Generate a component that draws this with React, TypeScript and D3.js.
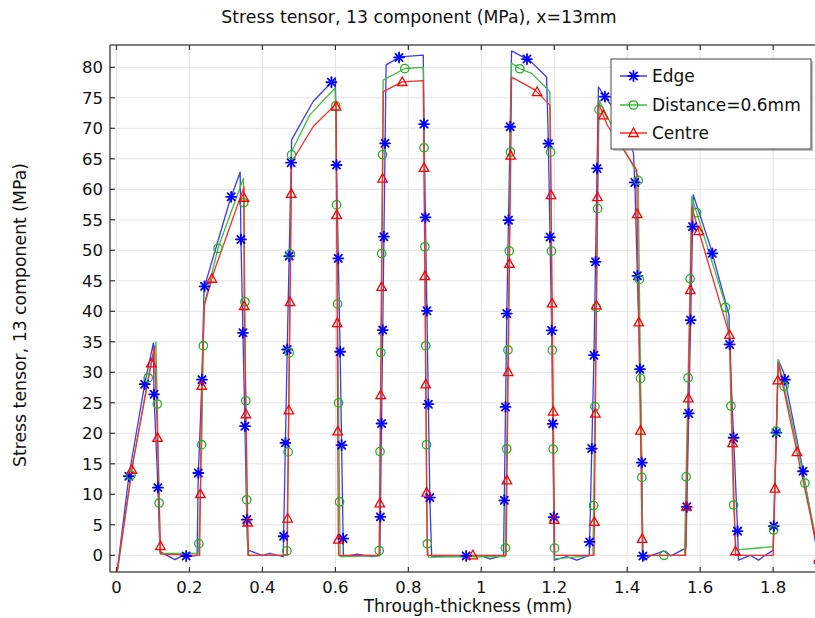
import React, { useMemo } from 'react';
import * as d3 from 'd3';

const xTicks = [0, 0.2, 0.4, 0.6, 0.8, 1, 1.2, 1.4, 1.6, 1.8];
const xTickLabels = ['0', '0.2', '0.4', '0.6', '0.8', '1', '1.2', '1.4', '1.6', '1.8'];
const yTicks = [0, 5, 10, 15, 20, 25, 30, 35, 40, 45, 50, 55, 60, 65, 70, 75, 80];

const seriesNames = ['Edge', 'Distance=0.6mm', 'Centre'];

const edgePts: [number, number][] = [
  [0, -3.5], [0.034, 13], [0.078, 28.3], [0.101, 34.8], [0.103, 26], [0.114, 10.5], [0.119, 0.6],
  [0.16, -0.7], [0.183, 0], [0.197, -0.2], [0.221, 0],
  [0.224, 12.9], [0.234, 28.2], [0.24, 43.8], [0.311, 58.2], [0.339, 62.8],
  [0.341, 52.2], [0.352, 21.5], [0.357, 6.2], [0.36, 0.3],
  [0.362, 0.8], [0.4, 0], [0.42, 0.3], [0.457, -0.2],
  [0.468, 33.8], [0.48, 68.1], [0.539, 74.4], [0.59, 77.6], [0.6, 78.3],
  [0.603, 64], [0.613, 33.4], [0.622, -0.2],
  [0.66, 0.2], [0.7, -0.2], [0.722, 0],
  [0.739, 80.4], [0.777, 81.7], [0.841, 82.0],
  [0.843, 70.3], [0.859, 9.1], [0.864, -0.2],
  [0.92, -0.1], [0.964, -0.1], [1.0, -0.1], [1.024, -0.6], [1.061, 0],
  [1.07, 40.2], [1.083, 82.7], [1.133, 81.1], [1.179, 78.4],
  [1.184, 67.1], [1.193, 36.4], [1.2, -0.8],
  [1.234, -0.2], [1.262, -0.8], [1.296, 0],
  [1.309, 33.1], [1.321, 76.8], [1.342, 74.9], [1.385, 71.5], [1.417, 66],
  [1.421, 60.9], [1.435, 30.4], [1.44, 15], [1.443, -0.3],
  [1.445, -0.8], [1.467, 0], [1.5, 0.7], [1.52, -0.1], [1.558, 1.1],
  [1.561, 1.2], [1.581, 59.1], [1.629, 50.4], [1.679, 39.4],
  [1.68, 35.5], [1.702, 4.9], [1.705, -0.8],
  [1.737, 0], [1.76, -0.8], [1.778, 0], [1.8, 0.8],
  [1.814, 32.0], [1.828, 30.1], [1.878, 15.1], [1.915, 2.5], [1.93, -2],
];

const distPts: [number, number][] = [
  [0, -3.5], [0.042, 14.1], [0.09, 30.1], [0.108, 35.0], [0.112, 24.3], [0.117, 8.0], [0.119, 0.3],
  [0.225, 0.3], [0.2336, 18.2], [0.24, 41], [0.279, 50.5], [0.348, 61.8],
  [0.352, 41.6], [0.357, 9.1], [0.36, 0],
  [0.467, 0], [0.48, 66.2], [0.53, 72.2], [0.599, 76.6],
  [0.601, 73.3], [0.606, 40.8], [0.613, -0.2],
  [0.72, -0.1], [0.731, 77.9], [0.791, 79.8], [0.841, 80.0],
  [0.843, 66.7], [0.852, 1.7], [0.855, -0.3],
  [1.066, -0.2], [1.083, 80.7], [1.104, 79.8], [1.138, 79.0], [1.188, 76.0],
  [1.19, 66.2], [1.197, 17.5], [1.201, -0.6],
  [1.306, 0], [1.323, 74.6], [1.357, 70.5], [1.417, 63.7], [1.43, 62.1],
  [1.433, 45.8], [1.44, 13.3], [1.443, 0],
  [1.557, 0], [1.577, 58.8], [1.586, 57], [1.668, 41.3], [1.68, 35.8],
  [1.684, 25.3], [1.691, 9.2], [1.698, 0.9],
  [1.8, 1.4], [1.814, 32.1], [1.874, 15.7], [1.915, 3.5], [1.93, -2],
];

const centrePts: [number, number][] = [
  [0, -3.5], [0.046, 15.5], [0.104, 34.2], [0.113, 18.2], [0.121, 0.2],
  [0.228, 0], [0.2336, 28.2], [0.241, 41], [0.265, 46.1], [0.3495, 60.4],
  [0.35, 40.5], [0.36, 4.7], [0.362, 0],
  [0.468, 0], [0.48, 64.5], [0.5395, 70.3], [0.602, 74.0],
  [0.6036, 55.9], [0.608, 2.9], [0.609, 0],
  [0.7205, 0], [0.7314, 76.0], [0.7835, 77.6], [0.841, 77.8],
  [0.843, 63.6], [0.85, 10.4], [0.852, 0],
  [1.068, 0], [1.083, 78.4], [1.147, 76.3], [1.188, 73.8],
  [1.191, 59.6], [1.2, 6.6], [1.201, 0],
  [1.309, 0], [1.321, 74.2], [1.3454, 70.5], [1.426, 63.2],
  [1.4277, 54], [1.4414, 0.9], [1.442, 0],
  [1.56, 0], [1.577, 57.1], [1.6014, 52.1], [1.6818, 35.8],
  [1.689, 17.4], [1.697, 0],
  [1.8, 0], [1.814, 31.5], [1.8646, 17.1], [1.915, 3], [1.93, -2],
];

// one marker position for each series; others follow along the curve
const markerAnchors: [number, number][] = [[0.7224, 6.3], [0.7223, 17.0], [0.7223, 8.5]];
const markerSpacingPx = [93.4, 99.0, 108.25];

const colors = ['#0000ff', '#22b022', '#ff0000'];
const lineColors = ['#3a3aff', '#3cc03c', '#ff2a2a'];

const W = 815, H = 618;
const left = 110, top = 45, bottom = 572, right = 840;

const xs = d3.scaleLinear().domain([0, 1]).range([116.5, 481.3]);
const ys = d3.scaleLinear().domain([0, 80]).range([555.3, 67.3]);

function markerPositions(pts: [number, number][], anchor: [number, number], spacing: number) {
  const P = pts.map(([x, y]) => [xs(x), ys(y)]);
  const cum = [0];
  for (let i = 1; i < P.length; i++) {
    cum.push(cum[i - 1] + Math.hypot(P[i][0] - P[i - 1][0], P[i][1] - P[i - 1][1]));
  }
  const A = [xs(anchor[0]), ys(anchor[1])];
  let best = Infinity, sA = 0;
  for (let i = 1; i < P.length; i++) {
    const ax = P[i - 1][0], ay = P[i - 1][1], bx = P[i][0], by = P[i][1];
    const dx = bx - ax, dy = by - ay;
    const l2 = dx * dx + dy * dy;
    let t = l2 > 0 ? ((A[0] - ax) * dx + (A[1] - ay) * dy) / l2 : 0;
    t = Math.max(0, Math.min(1, t));
    const d = Math.hypot(ax + t * dx - A[0], ay + t * dy - A[1]);
    if (d < best) { best = d; sA = cum[i - 1] + t * Math.sqrt(l2); }
  }
  const L = cum[cum.length - 1];
  const out: [number, number][] = [];
  let s = sA - Math.floor(sA / spacing) * spacing;
  let seg = 1;
  for (; s <= L; s += spacing) {
    while (seg < P.length - 1 && cum[seg] < s) seg++;
    const segLen = cum[seg] - cum[seg - 1];
    const t = segLen > 0 ? (s - cum[seg - 1]) / segLen : 0;
    const px = P[seg - 1][0] + t * (P[seg][0] - P[seg - 1][0]);
    const py = P[seg - 1][1] + t * (P[seg][1] - P[seg - 1][1]);
    if (py < bottom - 6) out.push([px, py]);
  }
  return out;
}

function Marker({ kind, x, y }: { kind: number; x: number; y: number }) {
  if (kind === 0) {
    const r = 5;
    const a = r * 0.72;
    return (
      <g stroke={colors[0]} strokeWidth={1.8} strokeLinecap="round">
        <line x1={x - r} y1={y} x2={x + r} y2={y} />
        <line x1={x} y1={y - r} x2={x} y2={y + r} />
        <line x1={x - a} y1={y - a} x2={x + a} y2={y + a} />
        <line x1={x - a} y1={y + a} x2={x + a} y2={y - a} />
      </g>
    );
  }
  if (kind === 1) {
    return <circle cx={x} cy={y} r={4.2} fill="none" stroke={colors[1]} strokeWidth={1.3} />;
  }
  const s = 5;
  const p = `M${x},${y - s} L${x + s * 0.95},${y + s * 0.7} L${x - s * 0.95},${y + s * 0.7} Z`;
  return <path d={p} fill="none" stroke={colors[2]} strokeWidth={1.3} />;
}

export default function App() {
  const series = [edgePts, distPts, centrePts];
  const line = d3.line<[number, number]>().x((d) => xs(d[0])).y((d) => ys(d[1]));
  const markers = useMemo(
    () => series.map((pts, i) => markerPositions(pts, markerAnchors[i], markerSpacingPx[i])),
    []
  );
  const font = 'DejaVu Sans, sans-serif';
  return (
    <svg width={W} height={H} style={{ position: 'absolute', left: 0, top: 0, background: '#fff' }} fontFamily={font}>
      <defs>
        <clipPath id="plotclip">
          <rect x={left} y={top} width={right - left} height={bottom - top} />
        </clipPath>
      </defs>
      <rect x={0} y={0} width={W} height={H} fill="#fff" />
      <g stroke="#e3e3e3" strokeWidth={1}>
        {xTicks.map((t) => (
          <line key={'gx' + t} x1={xs(t)} x2={xs(t)} y1={top} y2={bottom} />
        ))}
        {yTicks.map((t) => (
          <line key={'gy' + t} x1={left} x2={right} y1={ys(t)} y2={ys(t)} />
        ))}
      </g>
      <g clipPath="url(#plotclip)">
        {series.map((pts, i) => (
          <path key={'l' + i} d={line(pts) || ''} fill="none" stroke={lineColors[i]} strokeWidth={1.3} strokeLinejoin="round" />
        ))}
        {markers.map((ms, i) => (
          <g key={'m' + i}>
            {ms.map(([x, y], j) => (
              <Marker key={j} kind={i} x={x} y={y} />
            ))}
          </g>
        ))}
      </g>
      <g stroke="#555" strokeWidth={1.5} fill="none">
        <line x1={left} x2={right} y1={top} y2={top} />
        <line x1={left} x2={right} y1={bottom} y2={bottom} />
        <line x1={left} x2={left} y1={top} y2={bottom} />
      </g>
      <g stroke="#333" strokeWidth={1.2}>
        {xTicks.map((t) => (
          <g key={'tx' + t}>
            <line x1={xs(t)} x2={xs(t)} y1={bottom} y2={bottom - 5} />
            <line x1={xs(t)} x2={xs(t)} y1={top} y2={top + 5} />
          </g>
        ))}
        {yTicks.map((t) => (
          <line key={'ty' + t} x1={left} x2={left + 5} y1={ys(t)} y2={ys(t)} />
        ))}
      </g>
      <g fontSize={16.5} fill="#111">
        {xTicks.map((t, i) => (
          <text key={'lx' + t} x={xs(t)} y={593} textAnchor="middle">{xTickLabels[i]}</text>
        ))}
        {yTicks.map((t) => (
          <text key={'ly' + t} x={103} y={ys(t) + 6} textAnchor="end">{t}</text>
        ))}
      </g>
      <text x={419} y={23} textAnchor="middle" fontSize={17.3} fill="#111">
        Stress tensor, 13 component (MPa), x=13mm
      </text>
      <text x={468} y={612} textAnchor="middle" fontSize={17} fill="#111">
        Through-thickness (mm)
      </text>
      <text transform="translate(26,315) rotate(-90)" textAnchor="middle" fontSize={17.3} fill="#111">
        Stress tensor, 13 component (MPa)
      </text>
      <g>
        <rect x={613} y={61} width={200} height={90} fill="#999" opacity={0.6} />
        <rect x={611} y={59} width={200} height={90} fill="#fff" stroke="#444" strokeWidth={1} />
        {seriesNames.map((name, i) => {
          const yy = [76, 105, 133][i];
          return (
            <g key={'leg' + i}>
              <line x1={620} x2={647} y1={yy} y2={yy} stroke={lineColors[i]} strokeWidth={1.5} />
              <Marker kind={i} x={633.5} y={yy} />
              <text x={652} y={yy + 6} fontSize={17} fill="#111">{name}</text>
            </g>
          );
        })}
      </g>
    </svg>
  );
}
